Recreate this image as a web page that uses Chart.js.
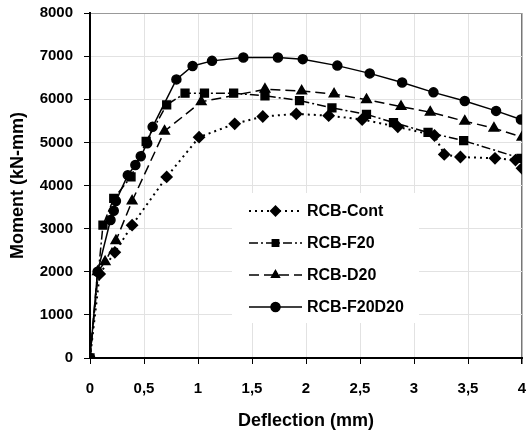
<!DOCTYPE html>
<html>
<head>
<meta charset="utf-8">
<script src="https://cdn.jsdelivr.net/npm/chart.js@4"></script>
<style>
  html, body { margin: 0; padding: 0; background: #fff; }
  #wrap { width: 529px; height: 438px; }
</style>
</head>
<body>
<div id="wrap"><canvas id="momentChart" width="529" height="438"></canvas></div>
<script>
// values
const seriesNames = ['RCB-Cont', 'RCB-F20', 'RCB-D20', 'RCB-F20D20'];

const contX = [0, 0.09, 0.23, 0.39, 0.71, 1.01, 1.34, 1.60, 1.91, 2.21, 2.52, 2.85, 3.19, 3.28, 3.43, 3.75, 3.94, 4.0];
const contY = [0, 1950, 2450, 3080, 4200, 5120, 5430, 5600, 5660, 5620, 5530, 5360, 5160, 4720, 4660, 4630, 4590, 4400];

const f20X = [0, 0.12, 0.22, 0.38, 0.52, 0.71, 0.88, 1.06, 1.33, 1.62, 1.94, 2.24, 2.56, 2.81, 3.13, 3.46, 3.99];
const f20Y = [0, 3080, 3700, 4200, 5020, 5870, 6140, 6140, 6140, 6080, 5970, 5800, 5650, 5460, 5230, 5040, 4630];

const d20X = [0, 0.07, 0.14, 0.24, 0.39, 0.69, 1.03, 1.62, 1.96, 2.26, 2.56, 2.88, 3.15, 3.47, 3.74, 4.0];
const d20Y = [0, 2000, 2230, 2720, 3640, 5260, 5940, 6230, 6190, 6120, 5990, 5830, 5700, 5490, 5330, 5120];

const f20d20X = [0, 0.07, 0.19, 0.22, 0.24, 0.35, 0.42, 0.47, 0.53, 0.58, 0.80, 0.95, 1.13, 1.42, 1.74, 1.97, 2.29, 2.59, 2.89, 3.18, 3.47, 3.76, 3.99];
const f20d20Y = [0, 2000, 3200, 3415, 3640, 4240, 4475, 4680, 4980, 5360, 6460, 6770, 6890, 6970, 6970, 6930, 6780, 6600, 6390, 6160, 5960, 5730, 5530];

const xTicks = [0, 0.5, 1, 1.5, 2, 2.5, 3, 3.5, 4];
const yTicks = [0, 1000, 2000, 3000, 4000, 5000, 6000, 7000, 8000];

const FONT = '"Liberation Sans", Arial, sans-serif';

function pts(xs, ys) {
  return xs.map((x, i) => ({ x: x, y: ys[i] }));
}

// legend drawn inside the plot, like the original spreadsheet chart
const boxLegend = {
  id: 'boxLegend',
  afterDatasetsDraw(chart) {
    const ctx = chart.ctx;
    const a = chart.chartArea;
    const left = a.left + 142, top = a.top + 180;
    ctx.save();
    ctx.fillStyle = '#fff';
    ctx.fillRect(left, top, 187, 130);
    chart.data.datasets.forEach((ds, i) => {
      const y = top + 18 + i * 32;
      const x0 = left + 17, x1 = left + 70, xm = (x0 + x1) / 2;
      ctx.strokeStyle = '#000';
      ctx.lineWidth = ds.borderWidth;
      ctx.setLineDash(ds.borderDash || []);
      ctx.beginPath();
      ctx.moveTo(x0, y);
      ctx.lineTo(x1, y);
      ctx.stroke();
      ctx.setLineDash([]);
      ctx.fillStyle = '#000';
      Chart.helpers.drawPoint(ctx, { pointStyle: ds.pointStyle, rotation: 0, borderWidth: 1, radius: 4.5 }, xm, y);
      ctx.fill();
      ctx.font = 'bold 16px ' + FONT;
      ctx.textBaseline = 'middle';
      ctx.textAlign = 'left';
      ctx.fillText(ds.label, x1 + 5, y + 1);
    });
    ctx.restore();
  }
};

const ctx = document.getElementById('momentChart').getContext('2d');
const chart = new Chart(ctx, {
  type: 'line',
  data: {
    datasets: [
      {
        label: seriesNames[0],
        data: pts(contX, contY),
        borderColor: '#000', backgroundColor: '#000',
        borderWidth: 2, borderDash: [2, 4],
        pointStyle: 'rectRot', pointRadius: 5
      },
      {
        label: seriesNames[1],
        data: pts(f20X, f20Y),
        borderColor: '#000', backgroundColor: '#000',
        borderWidth: 1.5, borderDash: [9, 3, 2, 3],
        pointStyle: 'rect', pointRadius: 5.5
      },
      {
        label: seriesNames[2],
        data: pts(d20X, d20Y),
        borderColor: '#000', backgroundColor: '#000',
        borderWidth: 1.5, borderDash: [10, 5],
        pointStyle: 'triangle', pointRadius: 5.5
      },
      {
        label: seriesNames[3],
        data: pts(f20d20X, f20d20Y),
        borderColor: '#000', backgroundColor: '#000',
        borderWidth: 1.5,
        pointStyle: 'circle', pointRadius: 4.5
      }
    ]
  },
  options: {
    responsive: false,
    animation: false,
    events: [],
    layout: { padding: { top: 13, right: 4 } },
    elements: { line: { tension: 0 } },
    plugins: {
      legend: { display: false },
      tooltip: { enabled: false }
    },
    scales: {
      x: {
        type: 'linear',
        min: 0, max: 4,
        afterFit: (s) => { s.height = 80; s.paddingLeft = 0; s.paddingRight = 0; },
        afterBuildTicks: (s) => { s.ticks = xTicks.map(v => ({ value: v })); },
        ticks: {
          color: '#000', padding: 16,
          font: { family: FONT, size: 15, weight: 'bold' },
          callback: (v) => String(v).replace('.', ',')
        },
        grid: {
          color: (c) => c.tick && c.tick.value === 4 ? '#777' : '#e2e2e2',
          lineWidth: (c) => c.tick && c.tick.value === 4 ? 1.5 : 1,
          tickColor: '#000', tickLength: 6
        },
        border: { color: '#000', width: 2 },
        title: {
          display: true, text: 'Deflection (mm)', color: '#000',
          font: { family: FONT, size: 18, weight: 'bold' },
          padding: { top: 0, bottom: 6 }
        }
      },
      y: {
        min: 0, max: 8000,
        afterFit: (s) => { s.width = 90; s.paddingTop = 0; s.paddingBottom = 0; },
        afterBuildTicks: (s) => { s.ticks = yTicks.map(v => ({ value: v })); },
        ticks: {
          color: '#000', padding: 11,
          font: { family: FONT, size: 15, weight: 'bold' },
          callback: (v) => String(v)
        },
        grid: {
          color: (c) => c.tick && c.tick.value === 8000 ? '#999' : '#e2e2e2',
          tickColor: '#000', tickLength: 6
        },
        border: { color: '#000', width: 2 },
        title: {
          display: true, text: 'Moment (kN-mm)', color: '#000',
          font: { family: FONT, size: 18, weight: 'bold' },
          padding: { top: 7, bottom: 0 }
        }
      }
    }
  },
  plugins: [boxLegend]
});
</script>
</body>
</html>
